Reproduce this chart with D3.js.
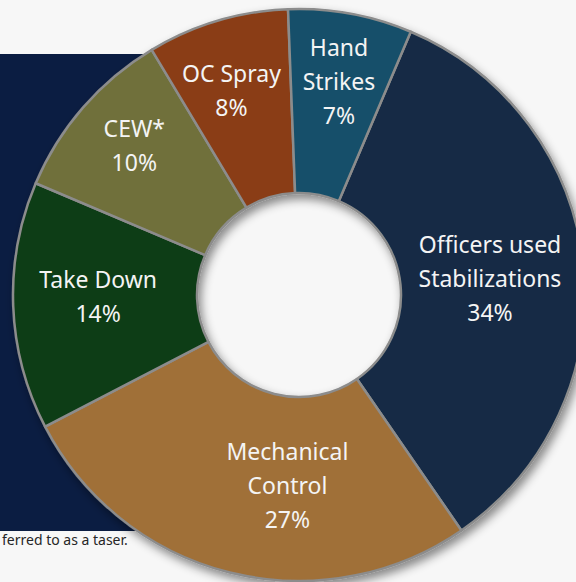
<!DOCTYPE html>
<html>
<head>
<meta charset="utf-8">
<script src="https://cdn.jsdelivr.net/npm/d3@7"></script>
<style>
  body { margin: 0; background: #f7f7f7; }
  svg { display: block; }
</style>
</head>
<body>
<div id="chart"></div>
<script>
// slices, clockwise from the Officers slice
var categories = ["Officers used Stabilizations", "Mechanical Control", "Take Down", "CEW*", "OC Spray", "Hand Strikes"];
var labelLines = [["Officers used", "Stabilizations"], ["Mechanical", "Control"], ["Take Down"], ["CEW*"], ["OC Spray"], ["Hand", "Strikes"]];
var percents = [34, 27, 14, 10, 8, 7];
var colors = ["#132b45", "#a07038", "#0f3c17", "#6f703a", "#8a3e16", "#15506a"];

var width = 576, height = 582;
var cx = 299, cy = 295, outerR = 286, innerR = 102;
// label nudges (px) from the slice centroid
var nudge = [[-13, 5], [38, -8], [4, -6], [-10, -15], [-9, -8], [3, -11]];

var svg = d3.select("#chart")
  .append("svg")
    .attr("width", width)
    .attr("height", height);

var defs = svg.append("defs");
var f = defs.append("filter").attr("id", "shadow")
  .attr("x", "-20%").attr("y", "-20%").attr("width", "140%").attr("height", "140%");
f.append("feDropShadow")
  .attr("dx", 3).attr("dy", 5).attr("stdDeviation", 5)
  .attr("flood-color", "#000").attr("flood-opacity", 0.45);

// navy panel behind the donut
svg.append("rect")
  .attr("x", 0).attr("y", 54)
  .attr("width", 300).attr("height", 477)
  .attr("fill", "#0b1d42");

svg.append("text")
  .attr("x", 2).attr("y", 545)
  .style("font-family", "'Noto Sans', sans-serif")
  .style("font-size", "14px")
  .attr("fill", "#262626")
  .text("ferred to as a taser.");

var pie = d3.pie()
  .sort(null)
  .startAngle(23 * Math.PI / 180)
  .endAngle((360 + 23) * Math.PI / 180);

var arcs = pie(percents);

var arc = d3.arc().innerRadius(innerR).outerRadius(outerR);
var labelArc = d3.arc().innerRadius(205).outerRadius(205);

var g = svg.append("g")
  .attr("transform", "translate(" + cx + "," + cy + ")");

// hole shows the page background, not the panel
g.append("circle")
  .attr("r", innerR + 2)
  .attr("fill", "#f7f7f7");

g.append("g")
  .attr("filter", "url(#shadow)")
  .selectAll("path")
  .data(arcs)
  .enter()
  .append("path")
    .attr("d", arc)
    .attr("fill", function (d, i) { return colors[i]; })
    .attr("stroke", "#8c8c8c")
    .attr("stroke-width", 2.5)
    .attr("stroke-linejoin", "round");

var lineH = 34;
var labels = g.append("g")
  .style("font-family", "'Noto Sans', sans-serif")
  .style("font-size", "23px")
  .attr("fill", "#f4f4f4")
  .attr("text-anchor", "middle")
  .selectAll("text")
  .data(arcs)
  .enter()
  .append("text")
    .attr("transform", function (d, i) {
      var c = labelArc.centroid(d);
      return "translate(" + (c[0] + nudge[i][0]) + "," + (c[1] + nudge[i][1]) + ")";
    });

labels.each(function (d, i) {
  var lines = labelLines[i].concat([percents[i] + "%"]);
  var t = d3.select(this);
  var top = -(lines.length - 1) * lineH / 2;
  lines.forEach(function (s, k) {
    t.append("tspan")
      .attr("x", 0)
      .attr("y", top + k * lineH)
      .attr("dy", "0.35em")
      .text(s);
  });
});
</script>
</body>
</html>
